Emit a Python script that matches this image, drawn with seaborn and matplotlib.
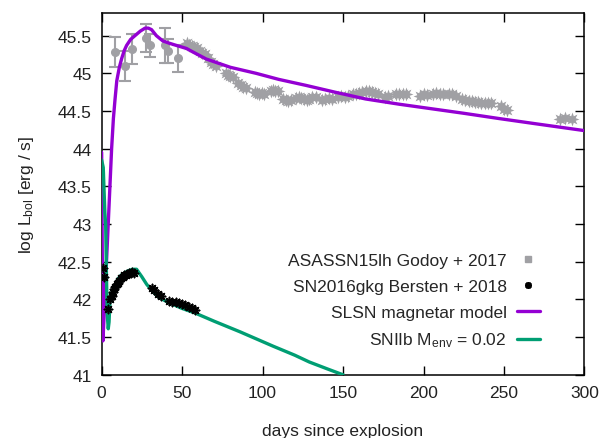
import numpy as np
import pandas as pd
import seaborn as sns
import matplotlib
matplotlib.use("Agg")
import matplotlib.pyplot as plt
from matplotlib.lines import Line2D

# ---------------- data ----------------
# SLSN magnetar model
mag_t = [0, 0.4, 0.8, 2, 3, 4, 5, 6.2, 7.3, 8.3, 9.4, 11, 12.5, 14, 15.5, 18, 20.7, 24,
         27, 29, 31, 34, 38, 42, 46.5, 52.7, 57, 65, 80, 96, 110, 127, 145, 164, 185,
         205, 225, 247, 270, 300]
mag_L = [43.95, 42.6, 41.45, 42.0, 42.49, 42.96, 43.43, 44.0, 44.4, 44.65, 44.9, 45.08,
         45.2, 45.3, 45.37, 45.45, 45.5, 45.56, 45.6, 45.6, 45.58, 45.5, 45.43, 45.4,
         45.37, 45.33, 45.28, 45.19, 45.08, 45.0, 44.92, 44.84, 44.75, 44.66, 44.59,
         44.53, 44.47, 44.4, 44.33, 44.24]

# SNIIb model (M_env = 0.02)
iib_t = [0, 1, 2, 2.5, 3, 3.5, 4.1, 4.6, 5.2, 6, 7, 8, 10, 12, 14, 16.5, 19, 21.7, 25,
         28, 32, 36, 41.5, 50, 58, 70, 86, 106.5, 120, 129, 140, 150]
iib_L = [43.85, 43.75, 43.15, 43.0, 42.3, 41.8, 41.61, 41.7, 42.0, 42.06, 42.12, 42.17,
         42.27, 42.32, 42.35, 42.38, 42.4, 42.4, 42.3, 42.2, 42.1, 42.02, 41.96, 41.88,
         41.82, 41.71, 41.57, 41.38, 41.26, 41.17, 41.08, 41.0]

# SN2016gkg (Bersten + 2018)
gkg_t = [1, 1.2, 4, 5.5, 6.2, 7, 7.8, 8.5, 9.3, 10, 11, 12, 13, 14, 15, 16, 17, 18, 19,
         20, 31, 32.5, 35, 37, 42, 44, 46, 48, 50, 52, 54, 56, 58]
gkg_L = [42.42, 42.3, 41.87, 42.0, 42.05, 42.1, 42.14, 42.17, 42.2, 42.22, 42.25, 42.28,
         42.3, 42.32, 42.33, 42.34, 42.35, 42.35, 42.36, 42.35, 42.15, 42.12, 42.07,
         42.04, 41.98, 41.97, 41.96, 41.95, 41.94, 41.92, 41.9, 41.88, 41.86]

# ASASSN15lh (Godoy + 2017) early points with error bars
asn_e_t = [8.3, 14.5, 18.6, 27.5, 29.9, 39.3, 41.3, 47.5]
asn_e_L = [45.28, 45.1, 45.32, 45.47, 45.37, 45.37, 45.3, 45.2]
asn_e_err = [0.2, 0.2, 0.2, 0.19, 0.15, 0.23, 0.16, 0.18]

# ASASSN15lh later points
asn_t = [53, 54.5, 56, 57.5, 59, 61, 62.5, 64, 66, 68, 69.5, 71, 77, 78.5, 80, 81.5,
         85, 86.5, 88, 89.5, 95, 96.5, 98, 99.5, 101, 105, 106.5, 108, 109.5,
         113, 114.5, 116, 117.5, 121, 122.5, 124, 126, 127.5, 129, 131, 133,
         137, 139, 141, 143, 147, 149, 151, 153, 156, 158, 160, 162, 164, 166, 168,
         170, 172, 176, 178, 183, 185, 187, 189, 198, 200, 202, 206, 208, 210, 212,
         216, 218, 220, 224, 226, 228, 230, 232, 234, 236, 238, 240, 242, 248, 250,
         252, 285, 288, 292]
asn_L = [45.4, 45.38, 45.36, 45.35, 45.33, 45.3, 45.27, 45.25, 45.2, 45.15, 45.12, 45.1,
         45.0, 44.98, 44.96, 44.95, 44.87, 44.85, 44.82, 44.8, 44.75, 44.74, 44.73,
         44.74, 44.73, 44.76, 44.78, 44.77, 44.76, 44.66, 44.64, 44.63, 44.64, 44.67,
         44.68, 44.67, 44.66, 44.64, 44.66, 44.69, 44.68, 44.65, 44.66, 44.67, 44.66,
         44.68, 44.7, 44.69, 44.7, 44.72, 44.73, 44.74, 44.75, 44.76, 44.76, 44.75,
         44.74, 44.73, 44.69, 44.7, 44.72, 44.73, 44.73, 44.72, 44.7, 44.72, 44.71,
         44.72, 44.74, 44.73, 44.72, 44.72, 44.73, 44.7, 44.66, 44.64, 44.63, 44.63,
         44.62, 44.62, 44.61, 44.6, 44.61, 44.6, 44.56, 44.53, 44.51, 44.4, 44.41, 44.39]

labels = ["ASASSN15lh Godoy + 2017", "SN2016gkg Bersten + 2018",
          "SLSN magnetar model", "SNIIb M$_{env}$ = 0.02"]

GRAY = "#a0a0a4"
PURPLE = "#9400d3"
GREEN = "#009e73"

# ---------------- plot ----------------
sns.set_style("ticks")
plt.rcParams["font.family"] = ["Liberation Sans", "DejaVu Sans"]
plt.rcParams["mathtext.default"] = "regular"
plt.rcParams["font.size"] = 12.5

fig = plt.figure(figsize=(6.05, 4.39), dpi=100)
ax = fig.add_axes([0.168, 0.144, 0.798, 0.824])

asn_df = pd.DataFrame({"t": asn_t, "L": asn_L})
gkg_df = pd.DataFrame({"t": gkg_t, "L": gkg_L})
mag_df = pd.DataFrame({"t": mag_t, "L": mag_L})
iib_df = pd.DataFrame({"t": iib_t, "L": iib_L})

ax.errorbar(asn_e_t, asn_e_L, yerr=asn_e_err, fmt="o", color=GRAY, ms=5.5,
            elinewidth=1.5, capsize=4, capthick=1.5, zorder=2)
sns.scatterplot(data=asn_df, x="t", y="L", ax=ax, color=GRAY, marker=(8, 1, 0),
                s=100, linewidth=0, zorder=2, legend=False)
sns.scatterplot(data=gkg_df, x="t", y="L", ax=ax, color="black", marker=(8, 2, 0),
                s=34, linewidth=1.2, edgecolor="black", zorder=4, legend=False)
sns.lineplot(data=mag_df, x="t", y="L", ax=ax, color=PURPLE, lw=2.4, sort=False,
             estimator=None, zorder=3)
sns.lineplot(data=iib_df, x="t", y="L", ax=ax, color=GREEN, lw=2.4, sort=False,
             estimator=None, zorder=3)

ax.set_xlim(0, 300)
ax.set_ylim(41, 45.8)
ax.set_xticks([0, 50, 100, 150, 200, 250, 300])
ax.set_yticks([41, 41.5, 42, 42.5, 43, 43.5, 44, 44.5, 45, 45.5])
ax.set_yticklabels(["41", "41.5", "42", "42.5", "43", "43.5", "44", "44.5", "45", "45.5"])
ax.tick_params(direction="in", length=6.5, width=1, top=True, right=True,
               labelsize=12.5, pad=7, colors="black", labelcolor="#222222")
for s in ax.spines.values():
    s.set_linewidth(1.1)
    s.set_color("black")

ax.set_xlabel("days since explosion", fontsize=12.5, labelpad=17, color="#222222")
ax.set_ylabel("log L$_{bol}$ [erg / s]", fontsize=12.5, labelpad=16, color="#222222")

handles = [
    Line2D([], [], ls="none", marker="s", ms=4, color=GRAY),
    Line2D([], [], ls="none", marker=(8, 2, 0), ms=5, mew=1.3, color="black"),
    Line2D([], [], color=PURPLE, lw=2.4),
    Line2D([], [], color=GREEN, lw=2.4),
]
ax.legend(handles, labels, loc="lower right", bbox_to_anchor=(0.925, 0.046),
          frameon=False, markerfirst=False, fontsize=12.5, handlelength=1.3,
          handletextpad=0.6, labelspacing=0.62, borderpad=0)

fig.savefig("out.png", dpi=100)
